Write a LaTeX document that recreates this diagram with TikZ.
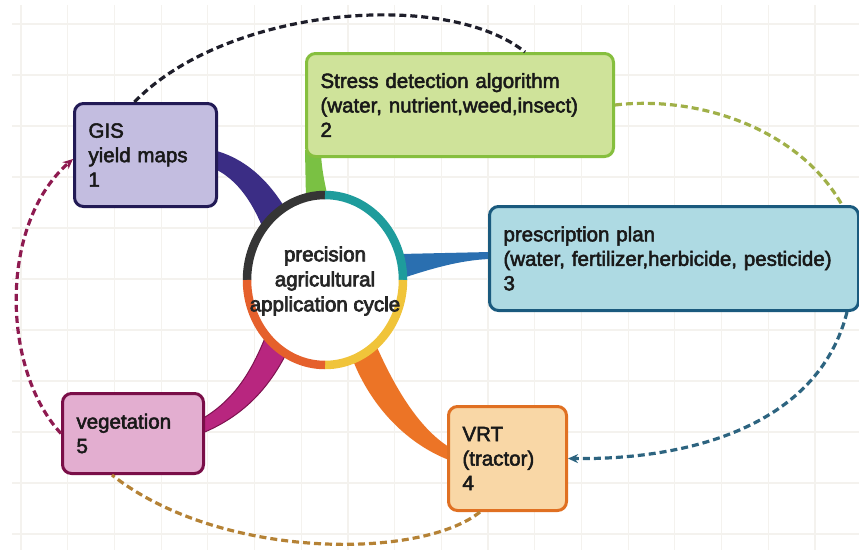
\documentclass[tikz,border=0pt]{standalone}
\usepackage{fontspec}
\setmainfont{Liberation Sans}
\newfontfamily\boxfont{Liberation Sans}[FakeBold=2.5]
\newfontfamily\hubfont{Liberation Sans}[FakeBold=3.5]
\usetikzlibrary{arrows.meta,calc}
\definecolor{gridc}{HTML}{F4F2EE}
\definecolor{gisfill}{HTML}{C3BDE0}
\definecolor{gisline}{HTML}{221A55}
\definecolor{strfill}{HTML}{CFE39A}
\definecolor{strline}{HTML}{86BF3E}
\definecolor{prefill}{HTML}{AEDAE3}
\definecolor{preline}{HTML}{1A5A7E}
\definecolor{vrtfill}{HTML}{F9D7A6}
\definecolor{vrtline}{HTML}{E07022}
\definecolor{vegfill}{HTML}{E3AED0}
\definecolor{vegline}{HTML}{7A0E48}
\definecolor{brnavy}{HTML}{3B2D85}
\definecolor{brgreen}{HTML}{7AC143}
\definecolor{brblue}{HTML}{2A6FB0}
\definecolor{brmag}{HTML}{B8267F}
\definecolor{brmagd}{HTML}{7E1250}
\definecolor{brorange}{HTML}{EC7426}
\definecolor{rdark}{HTML}{353535}
\definecolor{rteal}{HTML}{1E9C9C}
\definecolor{ryellow}{HTML}{F0C43A}
\definecolor{rorange}{HTML}{E5602C}
\definecolor{cblack}{HTML}{1E1E2A}
\definecolor{cgreen}{HTML}{A0B048}
\definecolor{cteal}{HTML}{2D6480}
\definecolor{corange}{HTML}{B58235}
\definecolor{cmag}{HTML}{8E1A50}
\begin{document}
\begin{tikzpicture}[x=1pt,y=-1pt,
  gridline/.style={draw=gridc, line width=1.2pt},
  txt/.style={font=\boxfont\fontsize{20.5}{24.5}\selectfont, text=black!90},
  boxbase/.style={txt, draw, line width=3pt, rounded corners=9pt, inner xsep=14pt, inner ysep=0pt, align=left, anchor=north west},
  ringseg/.style={line width=8.5pt},
  dashcon/.style={line width=3.2pt, dash pattern=on 7pt off 4pt},
  tip/.style={-{Stealth[length=10pt,width=9pt]}}
]
\useasboundingbox (0,0) rectangle (859,554);
\fill[white] (0,0) rectangle (859,554);
% grid
\foreach \i in {0,...,17} \draw[gridline] ({21+46.7*\i},5) -- ({21+46.7*\i},550);
\foreach \j in {0,...,10} \draw[gridline] (12,{24+51*\j}) -- (859,{24+51*\j});
% branches
\fill[brnavy] (213,150) .. controls (245,158) and (268,180) .. (285,208) -- (262,226) .. controls (250,198) and (235,178) .. (213,168) -- cycle;
\fill[brgreen] (305,150) -- (306,200) -- (328,198) .. controls (324,180) and (321,165) .. (321,150) -- cycle;
\fill[brblue] (400,254) -- (490,252) -- (490,259) .. controls (460,260) and (430,269) .. (400,279) -- cycle;
\filldraw[fill=brmag, draw=brmagd, line width=1pt] (265,338) .. controls (250,375) and (232,402) .. (200,420) -- (200,434) .. controls (240,418) and (266,392) .. (285,356) -- cycle;
\fill[brorange] (352,358) .. controls (372,410) and (410,445) .. (449,460) -- (449,447) .. controls (422,430) and (398,395) .. (376,345) -- cycle;
% ring
\fill[white] (325,280) ellipse [x radius=78, y radius=85];
\draw[ringseg, rdark] (325,280) ++(180:78 and 85) arc[start angle=180, end angle=270, x radius=78, y radius=85];
\draw[ringseg, rteal] (325,280) ++(270:78 and 85) arc[start angle=270, end angle=360, x radius=78, y radius=85];
\draw[ringseg, ryellow] (325,280) ++(0:78 and 85) arc[start angle=0, end angle=90, x radius=78, y radius=85];
\draw[ringseg, rorange] (325,280) ++(90:78 and 85) arc[start angle=90, end angle=180, x radius=78, y radius=85];
% boxes
\node[boxbase, fill=gisfill, draw=gisline, text width=114pt, minimum height=103pt] (gis) at (73,102) {GIS\\yield maps\\1};
\node[boxbase, fill=strfill, draw=strline, text width=279pt, minimum height=103pt] (stress) at (305,52) {Stress detection algorithm\\(water, nutrient,weed,insect)\\2};
\node[boxbase, fill=prefill, draw=preline, text width=341pt, minimum height=104pt] (presc) at (488,205) {prescription plan\\(water, fertilizer,herbicide, pesticide)\\3};
\node[boxbase, fill=vrtfill, draw=vrtline, text width=90pt, minimum height=104pt] (vrt) at (447,405) {VRT\\(tractor)\\4};
\node[boxbase, fill=vegfill, draw=vegline, text width=113pt, minimum height=80pt] (veg) at (61,392) {vegetation\\5};
\node[font=\hubfont\fontsize{20.5}{25}\selectfont, align=center, text=black!85] (hub) at (325,281) {precision\\agricultural\\application cycle};
% dashed cycle connectors
\draw[dashcon, cblack] ($(gis.north)+(-11,0)$) .. controls (225,8) and (445,-12) .. ($(stress.north)+(65,0)$);
\draw[dashcon, cgreen] (stress.east) .. controls (700,95) and (800,130) .. ($(presc.north east)+(-18,0)$);
\draw[dashcon, cteal, tip] ($(presc.south east)+(-13,0)$) .. controls (820,420) and (700,460) .. (vrt.east);
\draw[dashcon, corange] ($(vrt.south west)+(33,0)$) .. controls (420,560) and (220,560) .. ($(veg.south west)+(51,0)$);
\draw[dashcon, cmag, tip] (veg.west) .. controls (2,370) and (-2,225) .. ($(gis.west)+(0,4)$);
\end{tikzpicture}
\end{document}
